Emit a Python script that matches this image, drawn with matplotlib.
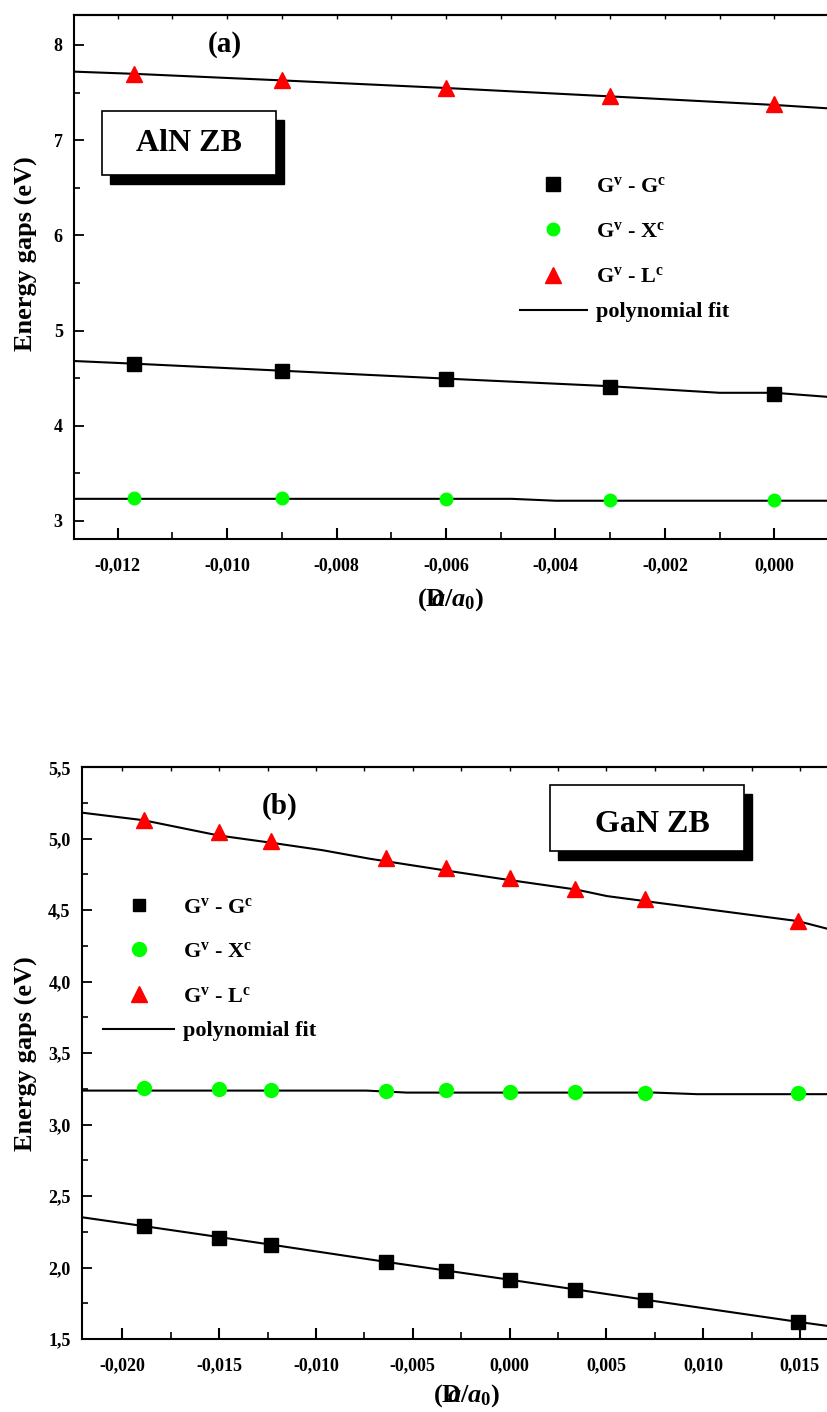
import matplotlib
matplotlib.use('Agg')
import matplotlib.pyplot as plt
from matplotlib.ticker import MultipleLocator, FuncFormatter
from matplotlib.patches import Rectangle
from matplotlib.lines import Line2D

plt.rcParams['font.family'] = ['Liberation Serif', 'DejaVu Serif']
plt.rcParams['font.weight'] = 'bold'
plt.rcParams['mathtext.fontset'] = 'custom'
plt.rcParams['mathtext.rm'] = 'Liberation Serif:bold'
plt.rcParams['mathtext.it'] = 'Liberation Serif:italic:bold'
plt.rcParams['mathtext.bf'] = 'Liberation Serif:bold'

# ---------------- data: panel (a) AlN ZB ----------------
strain_a = [-0.0117, -0.0090, -0.0060, -0.0030, 0.0]
gg_a = [4.65, 4.575, 4.49, 4.41, 4.33]
gx_a = [3.238, 3.238, 3.228, 3.217, 3.220]
gl_a = [7.70, 7.635, 7.55, 7.465, 7.375]

fit_gg_a_x = [-0.0128, -0.0117, -0.0090, -0.0060, -0.0030, -0.0010, 0.0, 0.00096]
fit_gg_a_y = [4.68, 4.652, 4.578, 4.495, 4.415, 4.346, 4.346, 4.304]
fit_gx_a_x = [-0.0128, -0.0048, -0.0040, 0.00096]
fit_gx_a_y = [3.232, 3.232, 3.212, 3.212]
fit_gl_a_x = [-0.0128, -0.0117, -0.0090, -0.0060, -0.0030, 0.0, 0.00096]
fit_gl_a_y = [7.72, 7.697, 7.628, 7.548, 7.46, 7.37, 7.335]

# ---------------- data: panel (b) GaN ZB ----------------
strain_b = [-0.0189, -0.0150, -0.0123, -0.0064, -0.0033, 0.0, 0.0034, 0.0070, 0.0149]
gg_b = [2.29, 2.205, 2.16, 2.04, 1.978, 1.912, 1.843, 1.775, 1.617]
gx_b = [3.255, 3.248, 3.241, 3.238, 3.241, 3.231, 3.231, 3.224, 3.224]
gl_b = [5.13, 5.046, 4.983, 4.862, 4.794, 4.722, 4.652, 4.576, 4.424]

fit_gg_b_x = [-0.0221, -0.0189, -0.0123, -0.0064, 0.0, 0.0070, 0.0149, 0.0164]
fit_gg_b_y = [2.352, 2.29, 2.16, 2.04, 1.915, 1.775, 1.62, 1.592]
fit_gx_b_x = [-0.0221, -0.0074, -0.0053, 0.0075, 0.0097, 0.0164]
fit_gx_b_y = [3.238, 3.238, 3.224, 3.224, 3.213, 3.213]
fit_gl_b_x = [-0.02205, -0.01892, -0.01503, -0.0123, -0.00966, -0.00721, -0.0033,
              0.0, 0.00343, 0.00503, 0.00699, 0.01489, 0.0164]
fit_gl_b_y = [5.182, 5.130, 5.023, 4.972, 4.920, 4.860, 4.778,
              4.711, 4.645, 4.599, 4.564, 4.424, 4.371]

marker_labels = [r'$\mathbf{G}^{\mathbf{v}}$ - $\mathbf{G}^{\mathbf{c}}$',
                 r'$\mathbf{G}^{\mathbf{v}}$ - X$^{\mathbf{c}}$',
                 r'$\mathbf{G}^{\mathbf{v}}$ - L$^{\mathbf{c}}$']
fit_label = 'polynomial fit'
xlabel = r'$(\mathrm{D}\!\!\!\!\mathit{a}/\mathit{a}_{0})$'

GREEN = '#00ff00'
RED = '#ff0000'

fig = plt.figure(figsize=(8.27, 14.12), dpi=100)
W, H = 827.0, 1412.0


def add_ax(left_px, top_px, bottom_px):
    return fig.add_axes([left_px / W, 1 - bottom_px / H, 1 - left_px / W, (bottom_px - top_px) / H])


def comma_fmt(nd):
    def f(v, p):
        if abs(v) < 1e-12:
            v = 0.0
        return f'{v:.{nd}f}'.replace('.', ',')
    return FuncFormatter(f)


def style_axis(ax, xmaj, xmin, ymaj, ymin, xnd, ynd):
    for s in ['left', 'bottom', 'top']:
        ax.spines[s].set_linewidth(1.5)
    ax.spines['right'].set_visible(False)
    ax.xaxis.set_major_locator(MultipleLocator(xmaj))
    ax.xaxis.set_minor_locator(MultipleLocator(xmin))
    ax.yaxis.set_major_locator(MultipleLocator(ymaj))
    ax.yaxis.set_minor_locator(MultipleLocator(ymin))
    ax.xaxis.set_major_formatter(comma_fmt(xnd))
    ax.yaxis.set_major_formatter(comma_fmt(ynd))
    ax.tick_params(axis='x', which='major', direction='in', length=8, width=1.5, pad=13, labelsize=13)
    ax.tick_params(axis='x', which='minor', direction='in', length=5, width=1.2)
    ax.tick_params(axis='y', which='major', direction='in', length=7, width=1.3, pad=8, labelsize=13)
    ax.tick_params(axis='y', which='minor', direction='in', length=4, width=1.2)
    sec = ax.secondary_xaxis('top')
    sec.xaxis.set_major_locator(MultipleLocator(xmaj))
    sec.xaxis.set_minor_locator(MultipleLocator(xmin))
    sec.tick_params(which='both', direction='in', length=3, width=1.0, labeltop=False)
    sec.spines['top'].set_linewidth(1.5)


def draw_box(ax, x0, y0, x1, y1, dx, dy, text, tx, ty):
    ax.add_patch(Rectangle((x0 + dx, y0 + dy), x1 - x0, y1 - y0, transform=ax.transAxes,
                           facecolor='black', edgecolor='black', zorder=5, clip_on=False))
    ax.add_patch(Rectangle((x0, y0), x1 - x0, y1 - y0, transform=ax.transAxes,
                           facecolor='white', edgecolor='black', linewidth=1.2, zorder=6, clip_on=False))
    ax.text(tx, ty, text, transform=ax.transAxes, ha='center', va='center',
            fontsize=23, fontweight='bold', zorder=7)


def add_legends(ax, ms, x, y_top, y_line, hl, spacing):
    mk = [Line2D([], [], ls='none', marker='s', color='black', ms=ms[0]),
          Line2D([], [], ls='none', marker='o', color=GREEN, ms=ms[1]),
          Line2D([], [], ls='none', marker='^', color=RED, ms=ms[2])]
    common = dict(frameon=False, handlelength=hl, handletextpad=0.4, borderpad=0,
                  borderaxespad=0, prop={'size': 16, 'weight': 'bold'})
    leg1 = ax.legend(mk, marker_labels, loc='upper left', bbox_to_anchor=(x, y_top),
                     labelspacing=spacing, **common)
    ax.add_artist(leg1)
    ax.legend([Line2D([], [], color='black', lw=1.5)], [fit_label], loc='center left',
              bbox_to_anchor=(x, y_line), **common)


# ---------------- panel (a) ----------------
axa = add_ax(73.8, 15, 539)
axa.plot(fit_gl_a_x, fit_gl_a_y, color='black', lw=1.5, zorder=2)
axa.plot(fit_gg_a_x, fit_gg_a_y, color='black', lw=1.5, zorder=2)
axa.plot(fit_gx_a_x, fit_gx_a_y, color='black', lw=1.5, zorder=2)
axa.plot(strain_a, gg_a, ls='none', marker='s', color='black', ms=9.5, zorder=3)
axa.plot(strain_a, gx_a, ls='none', marker='o', color=GREEN, ms=9, zorder=3)
axa.plot(strain_a, gl_a, ls='none', marker='^', color=RED, ms=11, zorder=3)
axa.set_xlim(-0.0128, 0.00096)
axa.set_ylim(2.81, 8.315)
style_axis(axa, 0.002, 0.001, 1, 0.5, 3, 0)
axa.set_ylabel('Energy gaps (eV)', fontsize=19, fontweight='bold')
axa.yaxis.set_label_coords(-0.047, 0.544)
axa.set_xlabel(xlabel, fontsize=19)
axa.xaxis.set_label_coords(0.5, -0.09)
axa.text(0.201, 0.943, '(a)', transform=axa.transAxes, ha='center', va='center',
         fontsize=21, fontweight='bold')
draw_box(axa, 0.0372, 0.6947, 0.2682, 0.8168, 0.0106, -0.0172, 'AlN ZB', 0.1527, 0.7557)
add_legends(axa, (9.5, 9, 11), 0.5924, 0.6927, 0.4332, 3.0, 1.12)

# ---------------- panel (b) ----------------
axb = add_ax(81.7, 767.3, 1339)
axb.plot(fit_gl_b_x, fit_gl_b_y, color='black', lw=1.5, zorder=2)
axb.plot(fit_gg_b_x, fit_gg_b_y, color='black', lw=1.5, zorder=2)
axb.plot(fit_gx_b_x, fit_gx_b_y, color='black', lw=1.5, zorder=2)
axb.plot(strain_b, gg_b, ls='none', marker='s', color='black', ms=9.5, zorder=3)
axb.plot(strain_b, gx_b, ls='none', marker='o', color=GREEN, ms=10, zorder=3)
axb.plot(strain_b, gl_b, ls='none', marker='^', color=RED, ms=11, zorder=3)
axb.set_xlim(-0.0221, 0.0164)
axb.set_ylim(1.5, 5.5)
style_axis(axb, 0.005, 0.0025, 0.5, 0.25, 3, 1)
axb.set_ylabel('Energy gaps (eV)', fontsize=19, fontweight='bold')
axb.yaxis.set_label_coords(-0.0586, 0.5)
axb.set_xlabel(xlabel, fontsize=19)
axb.xaxis.set_label_coords(0.516, -0.075)
axb.text(0.265, 0.931, '(b)', transform=axb.transAxes, ha='center', va='center',
         fontsize=21, fontweight='bold')
draw_box(axb, 0.6283, 0.8536, 0.8882, 0.969, 0.0107, -0.0157, 'GaN ZB', 0.7661, 0.9003)
add_legends(axb, (8.5, 10, 12), 0.029, 0.7731, 0.5387, 3.2, 1.08)

fig.savefig('out.png', dpi=100)
